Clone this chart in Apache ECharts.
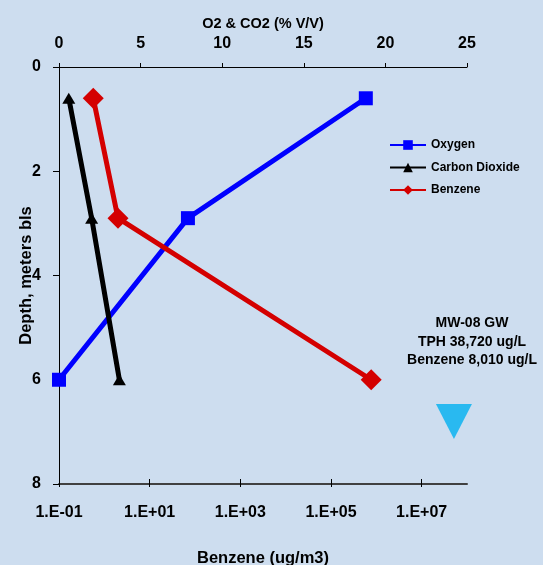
<!DOCTYPE html>
<html>
<head>
<meta charset="utf-8">
<script src="https://cdn.jsdelivr.net/npm/echarts@6/dist/echarts.min.js"></script>
<style>
html,body{margin:0;padding:0;background:#CDDDEF;}
#chart{width:543px;height:565px;}
</style>
</head>
<body>
<div id="chart"></div>
<script>
// ---- data ----
const depths = [0.6, 2.9, 6.0];
const oxygen = [18.8, 7.9, 0.0];          // % V/V (top axis)
const carbonDioxide = [0.6, 2.0, 3.7];    // % V/V (top axis)
const benzene = [0.57, 2.0, 7.7e5];       // ug/m3 (bottom log axis)
const waterLevel = [[24.2, 6.8]];         // [top-axis x, depth]
const depthTicks = [0, 2, 4, 6, 8];
const topTicks = [0, 5, 10, 15, 20, 25];
const benzeneTicks = [0.1, 10, 1000, 1e5, 1e7];
const annotationLines = ['MW-08 GW', 'TPH 38,720 ug/L', 'Benzene 8,010 ug/L'];

const FONT = 'Liberation Sans, Arial, sans-serif';
const pair = (xs) => xs.map((x, i) => [x, depths[i]]);
function sciLabel(v) {
  const e = Math.round(Math.log10(v));
  const s = e < 0 ? '-' : '+';
  const a = Math.abs(e);
  return '1.E' + s + (a < 10 ? '0' + a : a);
}

const chart = echarts.init(document.getElementById('chart'), null, {renderer: 'canvas'});
chart.setOption({
  backgroundColor: '#CDDDEF',
  animation: false,
  textStyle: {fontFamily: FONT},
  grid: {left: 59, top: 67, right: 76, bottom: 81, containLabel: false, outerBoundsMode: 'none'},
  legend: {
    data: ['Oxygen', 'Carbon Dioxide', 'Benzene'],
    orient: 'vertical',
    left: 384, top: 134,
    itemWidth: 36, itemHeight: 12, itemGap: 10.5,
    textStyle: {fontFamily: FONT, fontSize: 12, fontWeight: 'bold', color: '#000'}
  },
  xAxis: [
    {
      type: 'value', position: 'top', min: 0, max: 25, interval: 5,
      name: 'O2 & CO2 (% V/V)', nameLocation: 'middle', nameGap: 36, nameMoveOverlap: false,
      nameTextStyle: {fontFamily: FONT, fontSize: 14.5, fontWeight: 'bold', color: '#000'},
      axisLine: {show: true, lineStyle: {color: '#000', width: 1}},
      axisTick: {show: true, inside: false, length: 4, lineStyle: {color: '#000'}},
      axisLabel: {margin: 15, fontFamily: FONT, fontSize: 16, fontWeight: 'bold', color: '#000',
        customValues: topTicks},
      splitLine: {show: false}
    },
    {
      type: 'log', logBase: 10, position: 'bottom', min: 0.1, max: 1e8,
      name: 'Benzene (ug/m3)', nameLocation: 'middle', nameGap: 66, nameMoveOverlap: false,
      nameTextStyle: {fontFamily: FONT, fontSize: 16.5, fontWeight: 'bold', color: '#000'},
      axisLine: {show: true, lineStyle: {color: '#404040', width: 2}},
      axisTick: {show: true, inside: true, length: 5, lineStyle: {color: '#000'}, customValues: benzeneTicks},
      axisLabel: {margin: 21, fontFamily: FONT, fontSize: 16, fontWeight: 'bold', color: '#000',
        customValues: benzeneTicks, formatter: sciLabel},
      splitLine: {show: false}, minorTick: {show: false}
    },
    {
      type: 'log', logBase: 10, position: 'bottom', min: 0.1, max: 1e8,
      axisLine: {show: false},
      axisTick: {show: true, inside: false, length: 3, lineStyle: {color: '#000'}, customValues: benzeneTicks},
      axisLabel: {show: false},
      splitLine: {show: false}
    }
  ],
  yAxis: {
    type: 'value', inverse: true, min: 0, max: 8, interval: 2,
    name: 'Depth, meters bls', nameLocation: 'middle', nameGap: 24, nameRotate: 90, nameMoveOverlap: false,
    nameTextStyle: {fontFamily: FONT, fontSize: 16.5, fontWeight: 'bold', color: '#000'},
    axisLine: {show: true, onZero: false, lineStyle: {color: '#000', width: 1}},
    axisTick: {show: true, inside: false, length: 6, lineStyle: {color: '#000'}},
    axisLabel: {margin: 18, fontFamily: FONT, fontSize: 16, fontWeight: 'bold', color: '#000',
      customValues: depthTicks},
    splitLine: {show: false}
  },
  series: [
    {
      name: 'Oxygen', type: 'line', xAxisIndex: 0, data: pair(oxygen),
      symbol: 'rect', symbolSize: 14, color: '#0000FF',
      lineStyle: {width: 5, color: '#0000FF'}, itemStyle: {color: '#0000FF'}, z: 3
    },
    {
      name: 'Carbon Dioxide', type: 'line', xAxisIndex: 0, data: pair(carbonDioxide),
      symbol: 'triangle', symbolSize: [13, 11], color: '#000',
      lineStyle: {width: 5, color: '#000'}, itemStyle: {color: '#000'}, z: 3
    },
    {
      name: 'Benzene', type: 'line', xAxisIndex: 1, data: pair(benzene),
      symbol: 'diamond', symbolSize: 21, color: '#D40000',
      lineStyle: {width: 5, color: '#D40000'}, itemStyle: {color: '#D40000'}, z: 3
    },
    {
      name: 'Water Level', type: 'scatter', xAxisIndex: 0, data: waterLevel,
      symbol: 'triangle', symbolRotate: 180, symbolSize: [36, 35],
      itemStyle: {color: '#00B0F0'}, z: 2
    }
  ],
  graphic: [{
    type: 'text', x: 472, y: 314,
    style: {
      text: annotationLines.join('\n'),
      align: 'center', verticalAlign: 'top',
      font: 'bold 14px ' + FONT, lineHeight: 18.5, fill: '#000'
    }
  }]
});
</script>
</body>
</html>
